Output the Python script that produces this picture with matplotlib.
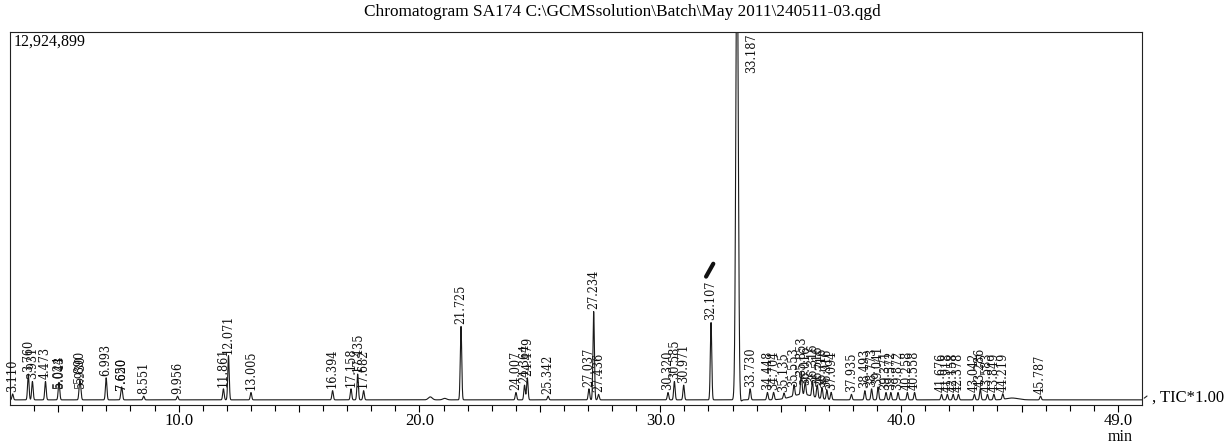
import numpy as np
import matplotlib
matplotlib.use("Agg")
import matplotlib.pyplot as plt
from matplotlib import font_manager

plt.rcParams["font.family"] = ["Liberation Serif", "DejaVu Serif"]

# peak list: retention time (min), height (% of full scale)
rt = [3.110, 3.760, 3.931, 4.473, 5.024, 5.043, 5.890, 5.930, 6.993, 7.620,
      7.650, 8.551, 9.956, 11.861, 12.071, 13.005, 16.394, 17.158, 17.435, 17.682,
      21.725, 24.007, 24.364, 24.479, 25.342, 27.037, 27.234, 27.436, 30.320, 30.585,
      30.971, 32.107, 33.187, 33.730, 34.448, 34.704, 35.135, 35.553, 35.853, 36.016,
      36.316, 36.516, 36.716, 36.916, 37.094, 37.935, 38.493, 38.773, 39.041, 39.371,
      39.572, 39.872, 40.258, 40.558, 41.676, 41.918, 42.158, 42.378, 43.042, 43.286,
      43.583, 43.849, 44.219, 45.787]
height = [1.6, 7.0, 5.0, 5.0, 2.5, 2.5, 4.0, 2.5, 6.0, 2.0,
          2.0, 1.0, 1.0, 3.0, 12.0, 2.0, 2.5, 3.0, 7.0, 2.5,
          20.0, 2.0, 4.0, 6.0, 1.0, 3.0, 24.0, 1.5, 2.0, 5.0,
          4.0, 21.0, 130.0, 3.0, 2.0, 2.0, 1.5, 3.0, 6.0, 3.5,
          4.0, 3.5, 3.0, 2.5, 2.0, 1.5, 2.5, 3.0, 3.5, 2.0,
          2.0, 2.0, 2.0, 2.0, 1.5, 1.5, 1.5, 1.5, 1.5, 3.0,
          1.5, 1.5, 1.5, 1.0]
# small unlabelled baseline humps
hump_rt = [20.45, 21.05, 35.9, 44.6, 33.30]
hump_h = [0.8, 0.4, 1.5, 0.5, -1.2]
hump_w = [0.08, 0.08, 0.45, 0.25, 0.05]

full_scale = "12,924,899"
title = r"Chromatogram SA174 C:\GCMSsolution\Batch\May 2011\240511-03.qgd"

t = np.linspace(3.0, 50.0, 12000)
sig = np.zeros_like(t)
for r, h in zip(rt, height):
    w = 0.05 if r == 33.187 else 0.03
    sig += h * np.exp(-0.5 * ((t - r) / w) ** 2)
for r, h, w in zip(hump_rt, hump_h, hump_w):
    sig += h * np.exp(-0.5 * ((t - r) / w) ** 2)

# condensed face for the crowded peak labels, if one is installed
cond = [f for f in font_manager.fontManager.ttflist
        if ("Narrow" in f.name or f.stretch in ("condensed", "semi-condensed"))
        and f.style == "normal" and f.weight in (400, "normal", "regular")]
cond.sort(key=lambda f: (0 if "Serif" in f.name else 1, f.name))
if cond:
    lab_fp = font_manager.FontProperties(fname=cond[0].fname, size=9)
else:
    lab_fp = font_manager.FontProperties(family="Liberation Serif", size=8)

fig = plt.figure(figsize=(12.29, 4.45), dpi=100)
ax = fig.add_axes([10 / 1229, 1 - 405 / 445, 1132 / 1229, 373 / 445])
ax.plot(t, sig, color="#1a1a1a", lw=0.8)
ax.set_xlim(3.0, 50.0)
ax.set_ylim(-1.4, 100)

for r, h in zip(rt, height):
    if h > 100:
        ax.text(r + 0.6, 99.5, f"{r:.3f}", rotation=90, ha="center", va="top",
                fontproperties=lab_fp, color="#111")
    else:
        ax.text(r, h + 0.6, f"{r:.3f}", rotation=90, ha="center", va="bottom",
                fontproperties=lab_fp, color="#111")

ax.set_yticks([])
major = [5, 10, 15, 20, 25, 30, 35, 40, 45, 49]
ax.set_xticks(major)
ax.set_xticklabels(["", "10.0", "", "20.0", "", "30.0", "", "40.0", "", "49.0"], fontsize=12)
ax.set_xticks(np.arange(4, 50, 1), minor=True)
ax.tick_params(axis="x", which="major", length=5, width=0.8, direction="out", pad=1)
ax.tick_params(axis="x", which="minor", length=4, width=0.8, direction="out")
for s in ax.spines.values():
    s.set_linewidth(0.8)
    s.set_color("#222")

ax.text(0.003, 0.995, full_scale, transform=ax.transAxes, ha="left", va="top", fontsize=11.5)
fig.text(622 / 1229, 1 - 12 / 445, title, ha="center", va="center", fontsize=12.4)
fig.text(1120 / 1229, 1 - 437 / 445, "min", ha="center", va="center", fontsize=11.5)

# trace end marker and channel label
ax.annotate("", xy=(50.3, 1.5), xytext=(50.0, 0.0), xycoords="data",
            arrowprops=dict(arrowstyle="-", color="#222", lw=0.8), annotation_clip=False)
fig.text(1152 / 1229, 1 - 398 / 445, ", TIC*1.00", ha="left", va="center", fontsize=12)

# pen mark on the scan near 32.107
ax.plot([31.9, 32.2], [33.5, 37.0], color="#111", lw=3, solid_capstyle="round")

fig.savefig("out.png", dpi=100)
